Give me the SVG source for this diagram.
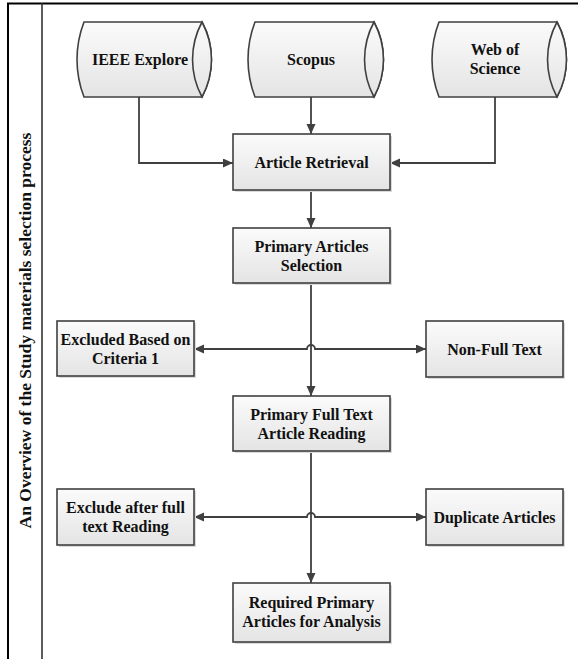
<svg xmlns="http://www.w3.org/2000/svg" xmlns:xlink="http://www.w3.org/1999/xlink" width="578" height="659" viewBox="0 0 578 659">
<defs>
<linearGradient id="g" x1="0" y1="0" x2="0" y2="1">
<stop offset="0" stop-color="#fbfbfb"/>
<stop offset="1" stop-color="#e4e4e4"/>
</linearGradient>
<marker id="ah" markerUnits="userSpaceOnUse" markerWidth="12" markerHeight="10" refX="10" refY="4.5" orient="auto-start-reverse">
<path d="M0,0 L10,4.5 L0,9 z" fill="#404040"/>
</marker>
</defs>
<style>
.box{fill:url(#g);stroke:#404040;stroke-width:1.6}
.sh{fill:#dadada}
.t{font-family:"Liberation Serif","Times New Roman",serif;font-weight:bold;font-size:16px;fill:#111;text-anchor:middle}
.c{fill:none;stroke:#404040;stroke-width:1.8}
.frame{stroke:#000;fill:none}
</style>
<rect width="578" height="659" fill="#fff"/>
<g id="frame">
<line class="frame" x1="7" y1="3.5" x2="578" y2="3.5" stroke-width="2"/>
<line class="frame" x1="8" y1="3" x2="8" y2="659" stroke-width="2"/>
<line x1="42" y1="3" x2="42" y2="659" stroke="#333" stroke-width="1.6"/>
<text id="title" class="t" transform="translate(31,330.5) rotate(-90)" style="font-size:17.5px">An Overview of the Study materials selection process</text>
</g>
<g id="connectors">
<path class="c" d="M139,97 V163 H233" marker-end="url(#ah)"/>
<path class="c" d="M311,97 V134" marker-end="url(#ah)"/>
<path class="c" d="M495,97 V163 H390" marker-end="url(#ah)"/>
<path class="c" d="M311,190 V228" marker-end="url(#ah)"/>
<path class="c" d="M311,283 V396" marker-end="url(#ah)"/>
<path class="c" d="M194,349 H307 A4,4 0 0 1 315,349 H426" marker-start="url(#ah)" marker-end="url(#ah)"/>
<path class="c" d="M311,451 V583" marker-end="url(#ah)"/>
<path class="c" d="M194,517 H307 A4,4 0 0 1 315,517 H426" marker-start="url(#ah)" marker-end="url(#ah)"/>
</g>
<g id="ieee">
<path class="box" d="M84,22 H202 A79,79 0 0 1 202,97 H84 A104,104 0 0 1 84,22 z"/>
<path class="box" d="M202,22 A79,79 0 0 1 202,97 A79,79 0 0 1 202,22 z"/>
<text class="t" x="140" y="65">IEEE Explore</text>
</g>
<g id="scopus">
<path class="box" d="M255,22 H374 A79,79 0 0 1 374,97 H255 A104,104 0 0 1 255,22 z"/>
<path class="box" d="M374,22 A79,79 0 0 1 374,97 A79,79 0 0 1 374,22 z"/>
<text class="t" x="311" y="65">Scopus</text>
</g>
<g id="wos">
<path class="box" d="M439,22 H557 A79,79 0 0 1 557,97 H439 A104,104 0 0 1 439,22 z"/>
<path class="box" d="M557,22 A79,79 0 0 1 557,97 A79,79 0 0 1 557,22 z"/>
<text class="t" x="495" y="55">Web of</text>
<text class="t" x="495" y="74">Science</text>
</g>
<g id="retrieval">
<rect class="sh" x="235" y="136" width="157" height="56"/>
<rect class="box" x="233" y="134" width="157" height="56"/>
<text class="t" x="311.5" y="167.5">Article Retrieval</text>
</g>
<g id="selection">
<rect class="sh" x="235" y="230" width="157" height="55"/>
<rect class="box" x="233" y="228" width="157" height="55"/>
<text class="t" x="311.5" y="251.5">Primary Articles</text>
<text class="t" x="311.5" y="270.5">Selection</text>
</g>
<g id="excluded1">
<rect class="sh" x="59" y="323" width="137" height="55"/>
<rect class="box" x="57" y="321" width="137" height="55"/>
<text class="t" x="125.5" y="344.5">Excluded Based on</text>
<text class="t" x="125.5" y="363.5">Criteria 1</text>
</g>
<g id="nonfull">
<rect class="sh" x="428" y="323" width="137" height="56"/>
<rect class="box" x="426" y="321" width="137" height="56"/>
<text class="t" x="494.5" y="354.5">Non-Full Text</text>
</g>
<g id="fulltext">
<rect class="sh" x="235" y="398" width="157" height="55"/>
<rect class="box" x="233" y="396" width="157" height="55"/>
<text class="t" x="311.5" y="419.5">Primary Full Text</text>
<text class="t" x="311.5" y="438.5">Article Reading</text>
</g>
<g id="excluded2">
<rect class="sh" x="59" y="491" width="137" height="56"/>
<rect class="box" x="57" y="489" width="137" height="56"/>
<text class="t" x="125.5" y="513">Exclude after full</text>
<text class="t" x="125.5" y="532">text Reading</text>
</g>
<g id="duplicate">
<rect class="sh" x="428" y="491" width="137" height="56"/>
<rect class="box" x="426" y="489" width="137" height="56"/>
<text class="t" x="494.5" y="522.5">Duplicate Articles</text>
</g>
<g id="required">
<rect class="sh" x="235" y="585" width="157" height="59"/>
<rect class="box" x="233" y="583" width="157" height="59"/>
<text class="t" x="311.5" y="608">Required Primary</text>
<text class="t" x="311.5" y="627">Articles for Analysis</text>
</g>
</svg>
